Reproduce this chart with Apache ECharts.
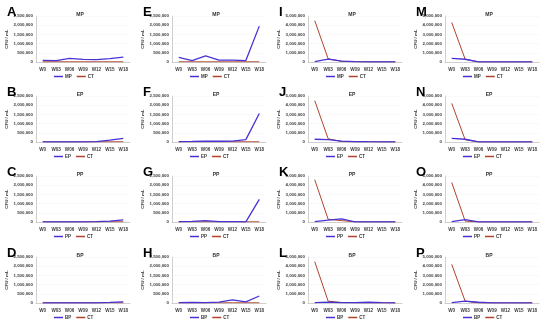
<!DOCTYPE html>
<html><head><meta charset="utf-8">
<script src="https://cdn.jsdelivr.net/npm/echarts@6/dist/echarts.min.js"></script>
<style>html,body{margin:0;padding:0;background:#fff}#c{width:550px;height:321px}</style>
</head><body><div id="c"></div>
<script>
var categories = ['W0','W03','W06','W09','W12','W15','W18'];
var ticks25 = [0, 500000, 1000000, 1500000, 2000000, 2500000];
var ticks50 = [0, 1000000, 2000000, 3000000, 4000000, 5000000];

var A_MP = [90000,70000,200000,140000,125000,180000,270000];
var A_CT = [10000,10000,10000,10000,10000,10000,10000];
var B_EP = [10000,10000,10000,10000,20000,100000,200000];
var B_CT = [10000,10000,10000,10000,10000,10000,10000];
var C_PP = [5000,5000,5000,10000,20000,50000,120000];
var C_CT = [10000,10000,10000,10000,10000,10000,10000];
var D_BP = [5000,5000,5000,5000,10000,30000,60000];
var D_CT = [10000,10000,10000,10000,10000,10000,10000];
var E_MP = [250000,80000,330000,100000,100000,80000,1950000];
var E_CT = [10000,10000,10000,10000,10000,10000,10000];
var F_EP = [20000,30000,50000,40000,50000,130000,1550000];
var F_CT = [10000,10000,10000,10000,10000,10000,10000];
var G_PP = [20000,30000,80000,20000,20000,10000,1230000];
var G_CT = [10000,10000,10000,10000,10000,10000,10000];
var H_BP = [20000,30000,20000,50000,170000,60000,380000];
var H_CT = [10000,10000,10000,10000,10000,10000,10000];
var I_MP = [50000,320000,100000,50000,20000,20000,20000];
var I_CT = [4500000,350000,80000,30000,20000,20000,20000];
var J_EP = [300000,250000,100000,50000,30000,20000,20000];
var J_CT = [4500000,350000,50000,20000,20000,20000,20000];
var K_PP = [50000,200000,350000,20000,10000,10000,10000];
var K_CT = [4600000,300000,150000,30000,20000,20000,20000];
var L_BP = [50000,100000,50000,30000,80000,30000,20000];
var L_CT = [4500000,200000,50000,30000,20000,20000,20000];
var M_MP = [400000,300000,20000,10000,10000,10000,10000];
var M_CT = [4300000,300000,5000,5000,5000,5000,5000];
var N_EP = [400000,300000,20000,10000,10000,10000,10000];
var N_CT = [4200000,250000,5000,5000,5000,5000,5000];
var O_PP = [50000,250000,20000,10000,10000,10000,10000];
var O_CT = [4300000,100000,5000,5000,5000,5000,5000];
var P_BP = [50000,200000,80000,20000,10000,10000,10000];
var P_CT = [4200000,200000,5000,5000,5000,5000,5000];

var panelLetters = ['A','B','C','D','E','F','G','H','I','J','K','L','M','N','O','P'];
var panelNames = ['MP','EP','PP','BP','MP','EP','PP','BP','MP','EP','PP','BP','MP','EP','PP','BP'];
var panelMain = [A_MP,B_EP,C_PP,D_BP,E_MP,F_EP,G_PP,H_BP,I_MP,J_EP,K_PP,L_BP,M_MP,N_EP,O_PP,P_BP];
var panelCT = [A_CT,B_CT,C_CT,D_CT,E_CT,F_CT,G_CT,H_CT,I_CT,J_CT,K_CT,L_CT,M_CT,N_CT,O_CT,P_CT];

var colX = [0,136,272,409];
var rowY = [0,80,160,241];
var mainColor = '#4733D3';
var ctColor = '#B0432A';
var ff = 'Liberation Sans, Arial, sans-serif';

var grids=[], xAxes=[], yAxes=[], series=[], titles=[], legends=[];
for (var i=0;i<16;i++){
  var c = Math.floor(i/4), r = i%4;
  var ox = colX[c], oy = rowY[r];
  var big = c>=2;
  var ticks = big ? ticks50 : ticks25;
  grids.push({left: ox+36, top: oy+16, width: 94, height: 46});
  xAxes.push({type:'category', gridIndex:i, data:categories, boundaryGap:true,
    axisLine:{lineStyle:{color:'#cfcfcf',width:1}}, axisTick:{show:false},
    axisLabel:{fontSize:4.6, fontWeight:'bold', color:'#404040', fontFamily:ff, margin:5, interval:0}});
  yAxes.push({type:'value', gridIndex:i, min:ticks[0], max:ticks[ticks.length-1], interval:ticks[1],
    name:'CFU / mL', nameLocation:'middle', nameGap:27, nameRotate:90,
    nameTextStyle:{fontSize:4.4, fontWeight:'bold', color:'#333', fontFamily:ff},
    axisLine:{show:true, lineStyle:{color:'#cfcfcf',width:1}}, axisTick:{show:false},
    splitLine:{show:true, lineStyle:{color:'#f2f2f2',width:0.5}},
    axisLabel:{fontSize:4.4, fontWeight:'bold', color:'#404040', fontFamily:ff, margin:3,
      formatter:function(v){return v.toLocaleString('en-US');}}});
  series.push({type:'line', name:panelNames[i], xAxisIndex:i, yAxisIndex:i, data:panelMain[i],
    symbol:'none', lineStyle:{color:mainColor,width:1.3}, itemStyle:{color:mainColor}, z:3});
  series.push({type:'line', name:'CT', xAxisIndex:i, yAxisIndex:i, data:panelCT[i],
    symbol:'none', lineStyle:{color:ctColor,width:1}, itemStyle:{color:ctColor}, z:2});
  titles.push({text:panelNames[i], left: ox+75, top: oy+7, textAlign:'center',
    textStyle:{fontSize:5, fontWeight:'bold', color:'#333', fontFamily:ff}});
  titles.push({text:panelLetters[i], left: ox+2, top: oy+1,
    textStyle:{fontSize:13, fontWeight:'bold', color:'#000', fontFamily:ff}});
  legends.push({data:[panelNames[i],'CT'], left: ox+54, top: oy+74, itemWidth:9, itemHeight:1.5, itemGap:5,
    icon:'rect', selectedMode:false, padding:0,
    textStyle:{fontSize:4.5, fontWeight:'bold', color:'#333', fontFamily:ff, padding:[0,0,0,-3]}});
}

var chart = echarts.init(document.getElementById('c'), null, {renderer:'canvas'});
chart.setOption({
  animation:false, backgroundColor:'#fff',
  title:titles, legend:legends, grid:grids, xAxis:xAxes, yAxis:yAxes, series:series
});
</script></body></html>
